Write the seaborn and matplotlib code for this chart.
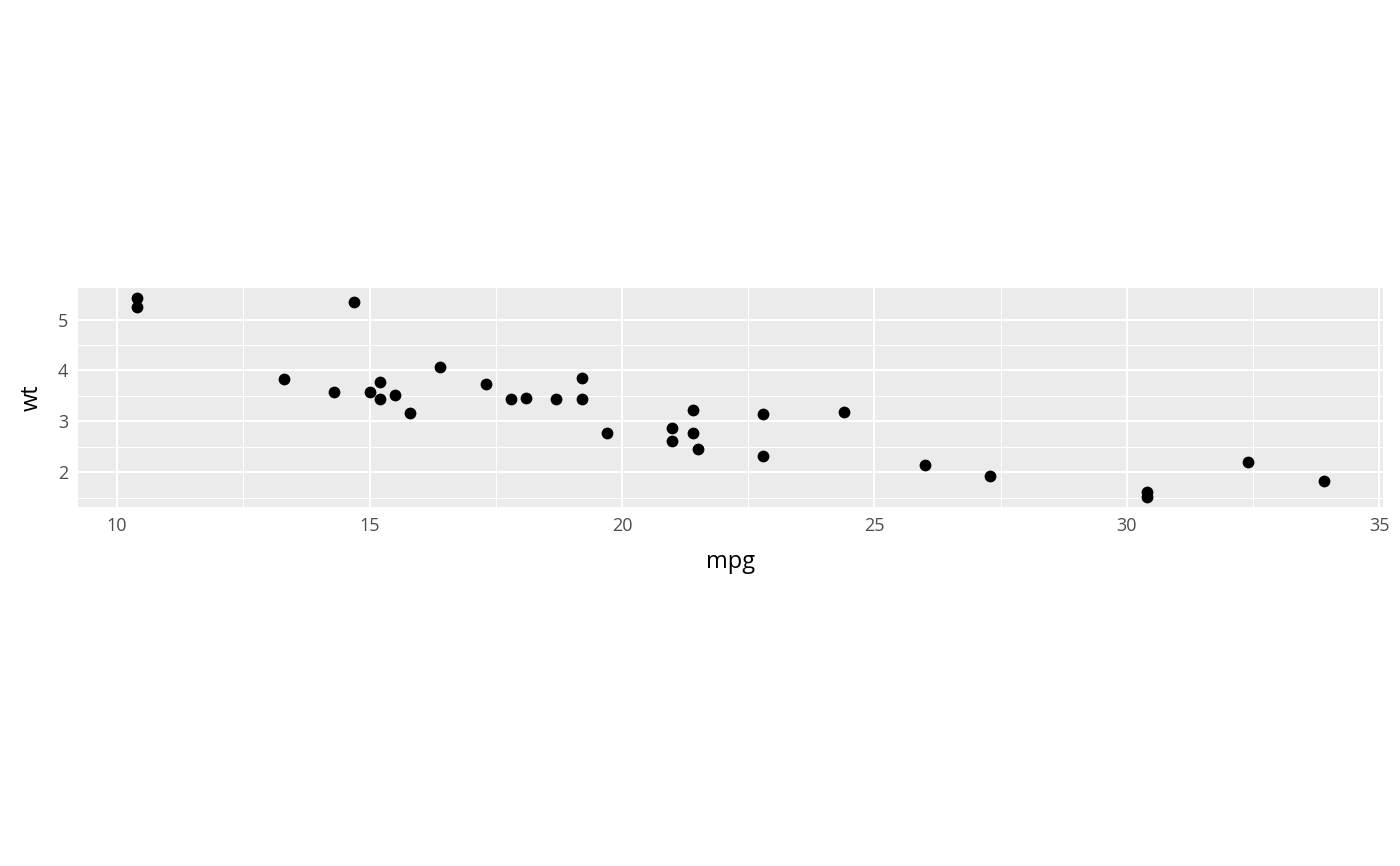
import numpy as np
import pandas as pd
import matplotlib
matplotlib.use("Agg")
import matplotlib.pyplot as plt
import seaborn as sns

# mtcars mpg / wt
mpg = [21.0, 21.0, 22.8, 21.4, 18.7, 18.1, 14.3, 24.4, 22.8, 19.2, 17.8, 16.4,
       17.3, 15.2, 10.4, 10.4, 14.7, 32.4, 30.4, 33.9, 21.5, 15.5, 15.2, 13.3,
       19.2, 27.3, 26.0, 30.4, 15.8, 19.7, 15.0, 21.4]
wt = [2.620, 2.875, 2.320, 3.215, 3.440, 3.460, 3.570, 3.190, 3.150, 3.440,
      3.440, 4.070, 3.730, 3.780, 5.250, 5.424, 5.345, 2.200, 1.615, 1.835,
      2.465, 3.520, 3.435, 3.840, 3.845, 1.935, 2.140, 1.513, 3.170, 2.770,
      3.570, 2.780]
x_ticks = [10, 15, 20, 25, 30, 35]
y_ticks = [2, 3, 4, 5]

df = pd.DataFrame({"mpg": mpg, "wt": wt})

sns.set_style("white")
plt.rcParams['font.family'] = ['Open Sans', 'DejaVu Sans']

fig = plt.figure(figsize=(14, 8.66), dpi=100)
ax = fig.add_axes([78 / 1400, 1 - 507 / 866, (1383 - 78) / 1400, (507 - 288) / 866])
ax.set_facecolor("#EBEBEB")

sns.scatterplot(data=df, x="mpg", y="wt", color="black", s=72, linewidth=0, ax=ax, zorder=3)

# ggplot-like expansion (5%)
xr = max(mpg) - min(mpg)
yr = max(wt) - min(wt)
ax.set_xlim(min(mpg) - 0.05 * xr, max(mpg) + 0.05 * xr)
ax.set_ylim(min(wt) - 0.05 * yr, max(wt) + 0.05 * yr)

ax.set_xticks(x_ticks)
ax.set_yticks(y_ticks)
ax.set_xticks([12.5, 17.5, 22.5, 27.5, 32.5], minor=True)
ax.set_yticks([1.5, 2.5, 3.5, 4.5], minor=True)
ax.grid(which="major", color="white", linewidth=1.5)
ax.grid(which="minor", color="white", linewidth=0.75)
ax.set_axisbelow(True)
for s in ax.spines.values():
    s.set_visible(False)

ax.tick_params(axis="both", which="major", length=4, width=1.2, color="#333333",
               labelcolor="#4D4D4D", labelsize=13, pad=3, direction="out")
ax.tick_params(axis="both", which="minor", length=0)

ax.set_xlabel("mpg", fontsize=17, color="black", labelpad=11)
ax.set_ylabel("wt", fontsize=17, color="black", labelpad=10)

fig.savefig("out.png", dpi=100)
